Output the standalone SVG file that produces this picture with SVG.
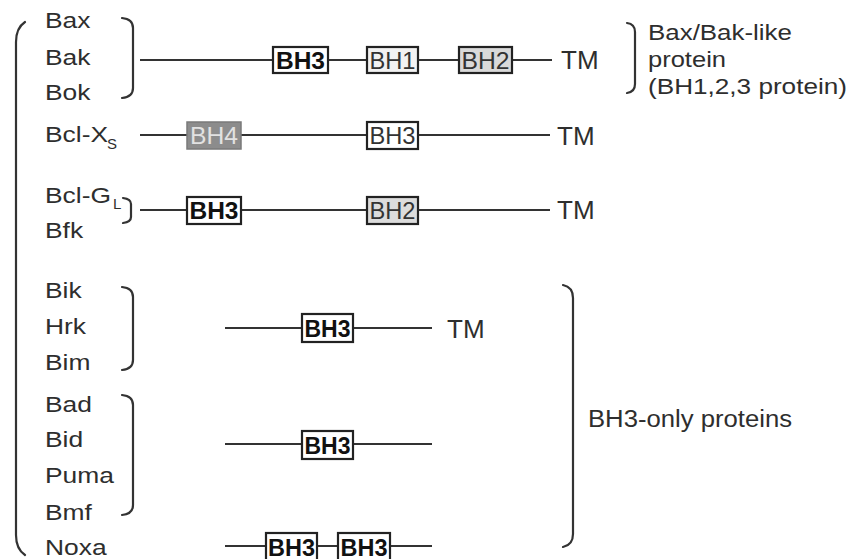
<svg xmlns="http://www.w3.org/2000/svg" width="852" height="559" viewBox="0 0 852 559">
<style>
text { font-family: "Liberation Sans", Arial, sans-serif; fill: #2e2e2e; }
.lbl { font-size: 22px; }
.sub { font-size: 15px; }
.tm { font-size: 26px; }
.grp { font-size: 22px; }
.line { stroke: #333; stroke-width: 2.2; fill: none; }
.br { stroke: #333; stroke-width: 2.2; fill: none; stroke-linecap: round; }
.box { stroke: #222; stroke-width: 2.2; }
.bt { font-size: 24px; text-anchor: middle; }
.bold { font-weight: bold; fill: #111; }
.reg { fill: #333; }
</style>
<rect width="852" height="559" fill="#fff"/>

<!-- big left bracket -->
<path class="br" d="M25,22 Q16,28 16,42 L16,535 Q16,549 25,555"/>

<g id="row1">
  <g transform="translate(45 0) scale(1.2 1)">
    <text class="lbl" x="0" y="28">Bax</text>
    <text class="lbl" x="0" y="65">Bak</text>
    <text class="lbl" x="0" y="100">Bok</text>
  </g>
  <path class="br" d="M122,18 Q133,19 133,28 L133,88 Q133,97 122,98"/>
  <line class="line" x1="140" y1="60" x2="552" y2="60"/>
  <rect class="box" x="273" y="47" width="55" height="26" fill="#fff"/>
  <text class="bt bold" x="300.5" y="68.5" textLength="49" lengthAdjust="spacingAndGlyphs">BH3</text>
  <rect class="box" x="367" y="47" width="51" height="26" fill="#f2f2f2"/>
  <text class="bt reg" x="392.5" y="68.5" textLength="46" lengthAdjust="spacingAndGlyphs">BH1</text>
  <rect class="box" x="459" y="47" width="53" height="26" fill="#d9d9d9"/>
  <text class="bt reg" x="485.5" y="68.5" textLength="48" lengthAdjust="spacingAndGlyphs">BH2</text>
  <text class="tm" x="561" y="69">TM</text>
</g>

<g id="group-baxbak">
  <path class="br" d="M627,23 Q635,24 635,32 L635,84 Q635,92 627,93"/>
  <text class="grp" x="648" y="40" textLength="144" lengthAdjust="spacingAndGlyphs">Bax/Bak-like</text>
  <text class="grp" x="648" y="67" textLength="78" lengthAdjust="spacingAndGlyphs">protein</text>
  <text class="grp" x="648" y="94" textLength="199" lengthAdjust="spacingAndGlyphs">(BH1,2,3 protein)</text>
</g>

<g id="row2">
  <g transform="translate(45 0) scale(1.2 1)">
    <text class="lbl" x="0" y="142">Bcl-X</text>
  </g>
  <text class="sub" x="107" y="149">S</text>
  <line class="line" x1="140" y1="135" x2="550" y2="135"/>
  <rect x="187" y="122" width="54" height="27" fill="#8c8c8c" stroke="#7a7a7a" stroke-width="1.5"/>
  <text class="bt" x="214" y="143.5" style="fill:#e2e2e2" textLength="48" lengthAdjust="spacingAndGlyphs">BH4</text>
  <rect class="box" x="367" y="122" width="51" height="27" fill="#fff"/>
  <text class="bt reg" x="392.5" y="143.5" textLength="46" lengthAdjust="spacingAndGlyphs">BH3</text>
  <text class="tm" x="557" y="145">TM</text>
</g>

<g id="row3">
  <g transform="translate(45 0) scale(1.2 1)">
    <text class="lbl" x="0" y="203">Bcl-G</text>
    <text class="lbl" x="0" y="238">Bfk</text>
  </g>
  <text class="sub" x="113" y="209">L</text>
  <path class="br" d="M123,198 Q131,199 131,204 L131,217 Q131,222 123,223"/>
  <line class="line" x1="140" y1="210" x2="550" y2="210"/>
  <rect class="box" x="187" y="197" width="54" height="27" fill="#fff"/>
  <text class="bt bold" x="214" y="218.5" textLength="49" lengthAdjust="spacingAndGlyphs">BH3</text>
  <rect class="box" x="367" y="197" width="51" height="27" fill="#dcdcdc"/>
  <text class="bt reg" x="392.5" y="218.5" textLength="46" lengthAdjust="spacingAndGlyphs">BH2</text>
  <text class="tm" x="557" y="219">TM</text>
</g>

<g id="row4">
  <g transform="translate(45 0) scale(1.2 1)">
    <text class="lbl" x="0" y="298">Bik</text>
    <text class="lbl" x="0" y="334">Hrk</text>
    <text class="lbl" x="0" y="370">Bim</text>
  </g>
  <path class="br" d="M122,287 Q133,288 133,297 L133,360 Q133,369 122,370"/>
  <line class="line" x1="225" y1="328" x2="432" y2="328"/>
  <rect class="box" x="302" y="314" width="51" height="28" fill="#fff"/>
  <text class="bt bold" x="327.5" y="336.5" textLength="46" lengthAdjust="spacingAndGlyphs">BH3</text>
  <text class="tm" x="447" y="338">TM</text>
</g>

<g id="row5">
  <g transform="translate(45 0) scale(1.2 1)">
    <text class="lbl" x="0" y="412">Bad</text>
    <text class="lbl" x="0" y="447">Bid</text>
    <text class="lbl" x="0" y="483">Puma</text>
    <text class="lbl" x="0" y="520">Bmf</text>
  </g>
  <path class="br" d="M122,395 Q133,396 133,405 L133,505 Q133,514 122,515"/>
  <line class="line" x1="225" y1="444" x2="432" y2="444"/>
  <rect class="box" x="302" y="431" width="51" height="28" fill="#fff"/>
  <text class="bt bold" x="327.5" y="453.5" textLength="46" lengthAdjust="spacingAndGlyphs">BH3</text>
</g>

<g id="row6">
  <g transform="translate(45 0) scale(1.2 1)">
    <text class="lbl" x="0" y="555">Noxa</text>
  </g>
  <line class="line" x1="225" y1="546" x2="432" y2="546"/>
  <rect class="box" x="266" y="533" width="51" height="28" fill="#fff"/>
  <text class="bt bold" x="291.5" y="555.5" textLength="47" lengthAdjust="spacingAndGlyphs">BH3</text>
  <rect class="box" x="338" y="533" width="52" height="28" fill="#fff"/>
  <text class="bt bold" x="364" y="555.5" textLength="47" lengthAdjust="spacingAndGlyphs">BH3</text>
</g>

<g id="group-bh3only">
  <path class="br" d="M563,285 Q573,287 573,298 L573,534 Q573,545 563,547"/>
  <text class="grp" x="588" y="427" style="font-size:23px" textLength="204" lengthAdjust="spacingAndGlyphs">BH3-only proteins</text>
</g>
</svg>
